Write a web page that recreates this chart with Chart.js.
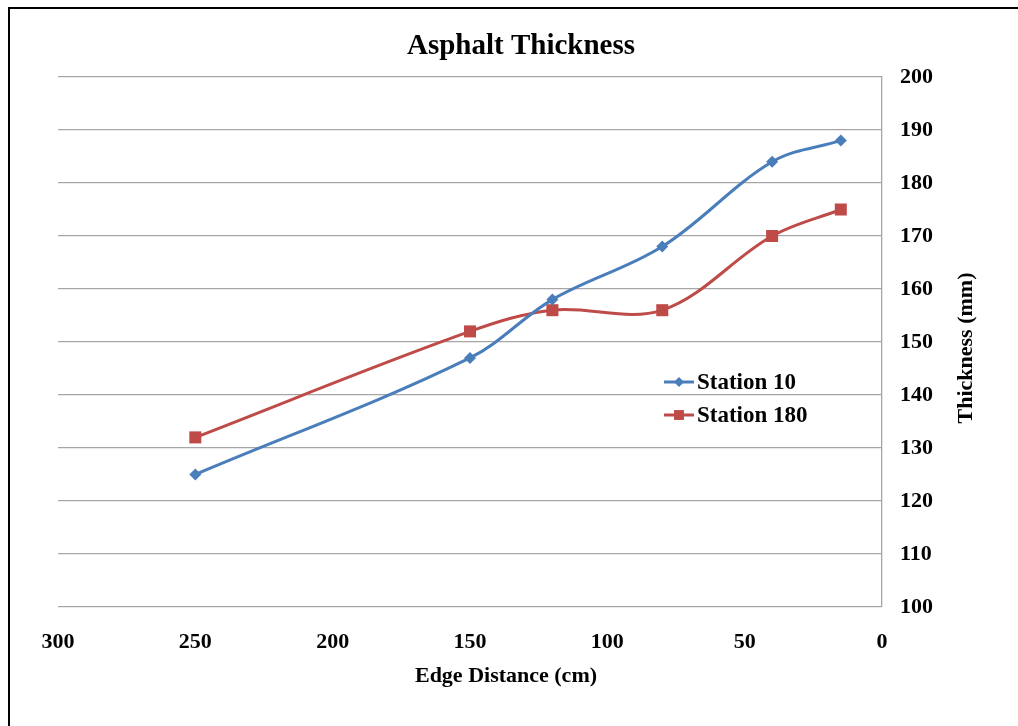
<!DOCTYPE html>
<html>
<head>
<meta charset="utf-8">
<script src="https://cdn.jsdelivr.net/npm/chart.js@4/dist/chart.umd.min.js"></script>
<style>
    body { margin: 0; background: #fff; }
    #wrap { position: relative; width: 1018px; height: 726px; }
    #frame { position: absolute; left: 8px; top: 7px; right: 0; bottom: 0;
             border-top: 2px solid #000; border-left: 2px solid #000; pointer-events: none; }
</style>
</head>
<body>
<div id="wrap">
    <canvas id="myChart" width="1018" height="726"></canvas>
    <div id="frame"></div>
</div>
<script>
// edge distance (cm) and asphalt thickness (mm)
const distances = [250, 150, 120, 80, 40, 15];
const station10 = [125, 147, 158, 168, 184, 188];
const station180 = [132, 152, 156, 156, 170, 175];
const seriesNames = ['Station 10', 'Station 180'];

const FONT = 'Liberation Serif, Times New Roman, serif';
const BLUE = '#4a7ebb';
const RED = '#be4b48';

const toPoints = (ys) => distances.map((x, i) => ({ x: x, y: ys[i] }));

// titles, legend and right axis title (reads bottom to top like the original)
const extras = {
    id: 'extras',
    afterDraw(chart) {
        const ctx = chart.ctx;
        ctx.save();
        ctx.fillStyle = '#000';
        ctx.textBaseline = 'middle';
        ctx.textAlign = 'center';

        ctx.font = 'bold 29px ' + FONT;
        ctx.fillText('Asphalt Thickness', 521, 47);

        ctx.font = 'bold 22px ' + FONT;
        ctx.fillText('Edge Distance (cm)', 506, 676);

        ctx.font = 'bold 23px ' + FONT;
        const items = [
            { name: seriesNames[0], color: BLUE, style: 'rectRot', r: 5, y: 382 },
            { name: seriesNames[1], color: RED, style: 'rect', r: 7, y: 415 }
        ];
        items.forEach(it => {
            ctx.strokeStyle = it.color;
            ctx.lineWidth = 3;
            ctx.beginPath();
            ctx.moveTo(664, it.y);
            ctx.lineTo(694, it.y);
            ctx.stroke();
            ctx.fillStyle = it.color;
            Chart.helpers.drawPoint(ctx, { pointStyle: it.style, radius: it.r, borderWidth: 0 }, 679, it.y);
            ctx.fillStyle = '#000';
            ctx.textAlign = 'left';
            ctx.fillText(it.name, 697, it.y + 1);
        });

        ctx.translate(966, 348);
        ctx.rotate(-Math.PI / 2);
        ctx.textAlign = 'center';
        ctx.font = 'bold 22px ' + FONT;
        ctx.fillText('Thickness (mm)', 0, 0);
        ctx.restore();
    }
};

const config = {
    type: 'line',
    data: {
        datasets: [
            {
                label: seriesNames[0],
                data: toPoints(station10),
                borderColor: BLUE,
                backgroundColor: BLUE,
                borderWidth: 3,
                pointStyle: 'rectRot',
                pointRadius: 6,
                pointBorderWidth: 0,
                tension: 0.35
            },
            {
                label: seriesNames[1],
                data: toPoints(station180),
                borderColor: RED,
                backgroundColor: RED,
                borderWidth: 3,
                pointStyle: 'rect',
                pointRadius: 8.5,
                pointBorderWidth: 0,
                tension: 0.35
            }
        ]
    },
    options: {
        responsive: false,
        animation: false,
        layout: { padding: { left: 58, right: 0, top: 77, bottom: 0 } },
        plugins: {
            legend: { display: false },
            tooltip: { enabled: false },
            title: { display: false }
        },
        scales: {
            x: {
                type: 'linear',
                reverse: true,
                min: 0,
                max: 300,
                ticks: {
                    stepSize: 50,
                    color: '#000',
                    padding: 14,
                    maxRotation: 0,
                    font: { family: FONT, size: 22, weight: 'bold' }
                },
                grid: { display: false },
                border: { display: false },
                afterFit: (s) => { s.height = 119; }
            },
            y: {
                position: 'right',
                min: 100,
                max: 200,
                ticks: {
                    stepSize: 10,
                    color: '#000',
                    padding: 18,
                    font: { family: FONT, size: 22, weight: 'bold' }
                },
                grid: { color: '#a6a6a6', lineWidth: 1.3, drawTicks: false },
                border: { display: true, color: '#a6a6a6', width: 1.3 },
                afterFit: (s) => { s.width = 136; }
            }
        }
    },
    plugins: [extras]
};

let myChart = new Chart(document.getElementById('myChart'), config);
</script>
</body>
</html>
